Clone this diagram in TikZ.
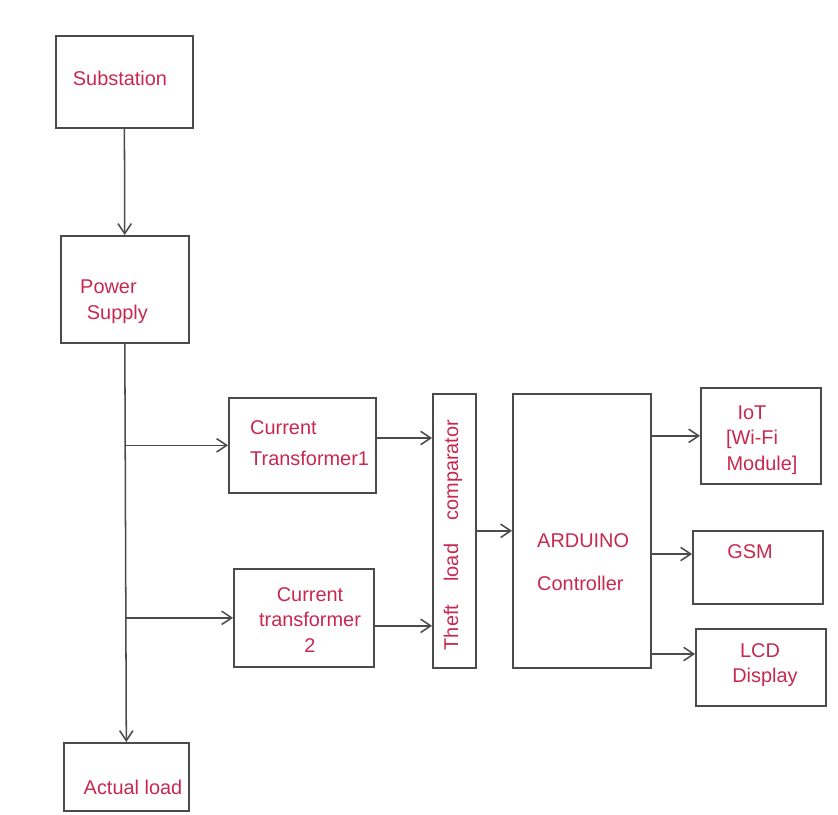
\documentclass[tikz,border=0pt]{standalone}
\usepackage{fontspec}
\setmainfont{Liberation Sans}
\usetikzlibrary{arrows.meta}
\definecolor{ink}{RGB}{200,40,80}
\definecolor{pencil}{RGB}{75,75,75}
\begin{document}
\begin{tikzpicture}[x=0.3mm, y=-0.3mm, font=\fontsize{17}{22}\selectfont,
  box/.style={rectangle, draw=pencil, line width=1.4pt, anchor=north west, inner sep=0pt},
  txt/.style={text=ink, align=left, inner sep=0pt},
  link/.style={draw=pencil, line width=1.3pt, -{Straight Barb[length=3mm, width=4mm]}}]
\useasboundingbox (0,0) rectangle (838,814);
% boxes: name, left, top, width, height
\foreach \name/\x/\y/\w/\h in {
  sub/55/35/137/92,
  supply/60/235/128/107,
  ct1/228/397/147/95,
  ct2/233/568/140/98,
  comp/432/393/43/274,
  ard/512/393/138/274,
  iot/700/387/120/96,
  gsm/692/530/130/73,
  lcd/695/628/130/77,
  load/63/742/125/68
} {
  \node[box, minimum width=\w*0.3mm, minimum height=\h*0.3mm] (\name) at (\x,\y) {};
}
% texts
\node[txt] (subtxt) at (120,78) {Substation};
\node[txt, anchor=west] (supplytxt) at (80,302) {Power\\\hspace{2mm}Supply};
\node[txt, anchor=west] (ct1txt) at (250,443) {Current\\[1.5mm]Transformer1};
\node[txt, align=center] (ct2txt) at (310,620) {Current\\transformer\\2};
\node[txt, rotate=90] (comptxt) at (453,535) {Theft\hspace{7mm}load\hspace{7mm}comparator};
\node[txt, anchor=west] (ardtxt) at (537,562) {ARDUINO\\[5mm]Controller};
\node[txt, align=center] (iottxt) at (752,440) {IoT\\{}[Wi-Fi\\\hspace{6mm}Module]};
\node[txt] (gsmtxt) at (750,552) {GSM};
\node[txt, align=center] (lcdtxt) at (760,665) {LCD\\\hspace{3mm}Display};
\node[txt] (loadtxt) at (133,787) {Actual load};
% connectors
\draw[link] (sub) -- (supply);
\draw[link] (supply.south) -- (load.north);
\draw[link] (supply.south |- ct1.west) -- (ct1.west);
\draw[link] (supply.south |- ct2.west) -- (ct2.west);
\coordinate (out1) at ([yshift=2.2mm]ct1.east);
\coordinate (out2) at ([yshift=-2.4mm]ct2.east);
\draw[link] (out1) -- (out1 -| comp.west);
\draw[link] (out2) -- (out2 -| comp.west);
\draw[link] (comp.east) -- (comp.east -| ard.west);
\foreach \dst/\dy in {iot/0, gsm/4, lcd/4} {
  \coordinate (in\dst) at ([yshift=\dy mm]\dst.west);
  \draw[link] (ard.east |- in\dst) -- (in\dst);
}
\end{tikzpicture}
\end{document}
